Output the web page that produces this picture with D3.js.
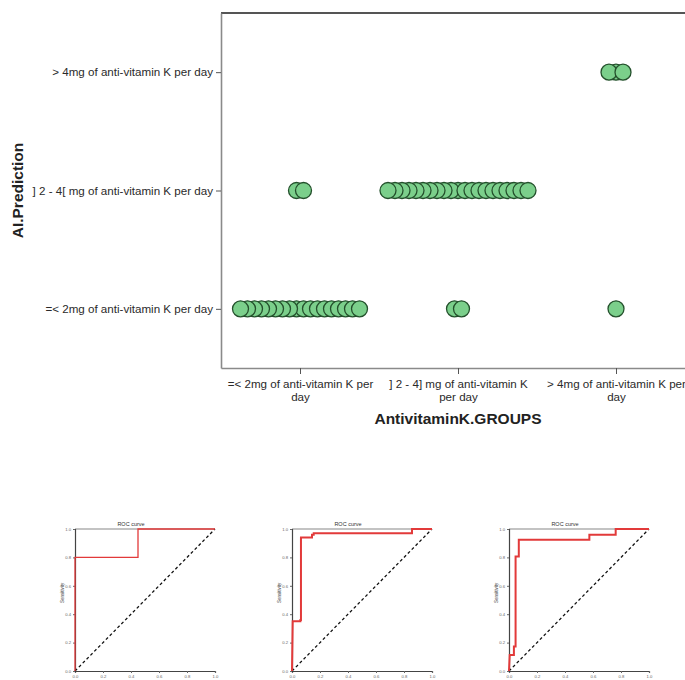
<!DOCTYPE html>
<html>
<head>
<meta charset="utf-8">
<script src="https://cdn.jsdelivr.net/npm/d3@7"></script>
<style>
  body { margin: 0; background: #fff; }
  svg { display: block; }
</style>
</head>
<body>
<svg id="chart" width="685" height="680"></svg>
<script>
// ---- Dot plot data: AI prediction vs. anti-vitamin K group ----
const groups = [
  "=< 2mg of anti-vitamin K per day",
  "] 2 - 4] mg of anti-vitamin K per day",
  "> 4mg of anti-vitamin K per day"
];
const predictions = [
  "=< 2mg of anti-vitamin K per day",
  "] 2 - 4[ mg of anti-vitamin K per day",
  "> 4mg of anti-vitamin K per day"
];
// number of cases in each cell, one array per predicted class, ordered like `groups`
const countsPredLow  = [18, 2, 1];
const countsPredMid  = [2, 21, 0];
const countsPredHigh = [0, 0, 3];

// ---- ROC curves (false positive rate / true positive rate) ----
const roc1Fpr = [0, 0, 0.45, 0.45, 1];
const roc1Tpr = [0, 0.8, 0.8, 1, 1];
const roc2Fpr = [0, 0.005, 0.06, 0.06, 0.064, 0.064, 0.143, 0.143, 0.155, 0.155, 0.857, 0.857, 1];
const roc2Tpr = [0, 0.35, 0.35, 0.36, 0.36, 0.94, 0.94, 0.96, 0.96, 0.97, 0.97, 1, 1];
const roc3Fpr = [0, 0.005, 0.035, 0.035, 0.047, 0.047, 0.07, 0.07, 0.574, 0.574, 0.762, 0.762, 1];
const roc3Tpr = [0, 0.113, 0.113, 0.172, 0.172, 0.807, 0.807, 0.925, 0.925, 0.96, 0.96, 1, 1];
const rocTicks = [0, 0.2, 0.4, 0.6, 0.8, 1];

const svg = d3.select("#chart");
const FONT = "'Liberation Sans', Arial, sans-serif";

// ================= Dot plot =================
const plot = { left: 221, top: 13, right: 695, bottom: 368 };
const x = d3.scalePoint().domain(groups).range([plot.left, plot.right]).padding(0.5);
const y = d3.scalePoint().domain(predictions).range([plot.bottom, plot.top]).padding(0.5);

const countRows = [countsPredLow, countsPredMid, countsPredHigh];
const dots = [];
const step = 7; // horizontal spread between stacked cases
countRows.forEach((row, pi) => {
  row.forEach((n, gi) => {
    for (let i = 0; i < n; i++) {
      const off = (i - (n - 1) / 2) * step;
      dots.push({ g: groups[gi], p: predictions[pi], off });
    }
  });
});
// draw from the centre of each cluster outwards
dots.sort((a, b) => Math.abs(a.off) - Math.abs(b.off));

// frame
svg.append("line").attr("x1", plot.left).attr("x2", 685).attr("y1", plot.top).attr("y2", plot.top)
  .attr("stroke", "#555").attr("stroke-width", 2.2);

const xAxis = svg.append("g").attr("transform", `translate(0,${plot.bottom})`)
  .call(d3.axisBottom(x).tickSize(6).tickSizeOuter(0).tickPadding(6));
const yAxis = svg.append("g").attr("transform", `translate(${plot.left},0)`)
  .call(d3.axisLeft(y).tickSize(5).tickSizeOuter(0).tickPadding(3));

[xAxis, yAxis].forEach(a => {
  a.select(".domain").attr("stroke", "#8a8a8a").attr("stroke-width", 1.6);
  a.selectAll(".tick line").attr("stroke", "#555");
  a.selectAll("text").attr("font-family", FONT).attr("font-size", 11.6).attr("fill", "#2a2a2a");
});

// wrap x tick labels onto two lines
xAxis.selectAll(".tick text").each(function(d) {
  const t = d3.select(this);
  const words = d.split(" ");
  t.text(null);
  let line = [];
  let tspan = t.append("tspan").attr("x", 0).attr("dy", "0.71em");
  words.forEach(w => {
    line.push(w);
    tspan.text(line.join(" "));
    if (tspan.node().getComputedTextLength() > 152 && line.length > 1) {
      line.pop();
      tspan.text(line.join(" "));
      line = [w];
      tspan = t.append("tspan").attr("x", 0).attr("dy", "1.08em").text(w);
    }
  });
});

svg.append("g").selectAll("circle").data(dots).join("circle")
  .attr("cx", d => x(d.g) + d.off)
  .attr("cy", d => y(d.p))
  .attr("r", 8)
  .attr("fill", "#7bcf8b")
  .attr("stroke", "#24502c")
  .attr("stroke-width", 1.3);

svg.append("text")
  .attr("x", x(groups[1])).attr("y", 424)
  .attr("text-anchor", "middle")
  .attr("font-family", FONT).attr("font-weight", "bold").attr("font-size", 15.5)
  .attr("fill", "#222")
  .text("AntivitaminK.GROUPS");

svg.append("text")
  .attr("transform", `translate(23,${y(predictions[1])}) rotate(-90)`)
  .attr("text-anchor", "middle")
  .attr("font-family", FONT).attr("font-weight", "bold").attr("font-size", 15.5)
  .attr("fill", "#222")
  .text("AI.Prediction");

// ================= ROC panels =================
const panels = [
  { left: 75,  fpr: roc1Fpr, tpr: roc1Tpr, width: 1.3 },
  { left: 292, fpr: roc2Fpr, tpr: roc2Tpr, width: 2 },
  { left: 509, fpr: roc3Fpr, tpr: roc3Tpr, width: 2 }
];
const pTop = 529, pH = 142, pW = 140;

panels.forEach(p => {
  const g = svg.append("g");
  const px = d3.scaleLinear().domain([0, 1]).range([p.left, p.left + pW]);
  const py = d3.scaleLinear().domain([0, 1]).range([pTop + pH, pTop]);

  // top border
  g.append("line").attr("x1", px(0)).attr("x2", px(1)).attr("y1", py(1)).attr("y2", py(1))
    .attr("stroke", "#888").attr("stroke-width", 1.1);

  const ax = g.append("g").attr("transform", `translate(0,${py(0)})`)
    .call(d3.axisBottom(px).tickValues(rocTicks).tickFormat(d3.format(".1f")).tickSize(2).tickPadding(2));
  const ay = g.append("g").attr("transform", `translate(${px(0)},0)`)
    .call(d3.axisLeft(py).tickValues(rocTicks).tickFormat(d3.format(".1f")).tickSize(2).tickPadding(2));
  [ax, ay].forEach(a => {
    a.select(".domain").attr("stroke", "#444").attr("stroke-width", 1.2);
    a.selectAll(".tick line").attr("stroke", "#666");
    a.selectAll("text").attr("font-family", FONT).attr("font-size", 4.2).attr("fill", "#666");
  });

  // chance diagonal
  g.append("line").attr("x1", px(0)).attr("y1", py(0)).attr("x2", px(1)).attr("y2", py(1))
    .attr("stroke", "#111").attr("stroke-width", 1.3).attr("stroke-dasharray", "3,2.5");

  const pts = p.fpr.map((f, i) => [f, p.tpr[i]]);
  g.append("path")
    .attr("d", d3.line().x(d => px(d[0])).y(d => py(d[1]))(pts))
    .attr("fill", "none").attr("stroke", "#e23a3a").attr("stroke-width", p.width);

  g.append("text")
    .attr("x", p.left + pW / 2 - 14).attr("y", pTop - 3)
    .attr("text-anchor", "middle")
    .attr("font-family", FONT).attr("font-size", 5.5).attr("fill", "#333")
    .text("ROC curve");

  g.append("text")
    .attr("transform", `translate(${p.left - 11},${py(0.55)}) rotate(-90)`)
    .attr("text-anchor", "middle")
    .attr("font-family", FONT).attr("font-size", 4.5).attr("fill", "#444")
    .text("Sensitivity");
});
</script>
</body>
</html>
